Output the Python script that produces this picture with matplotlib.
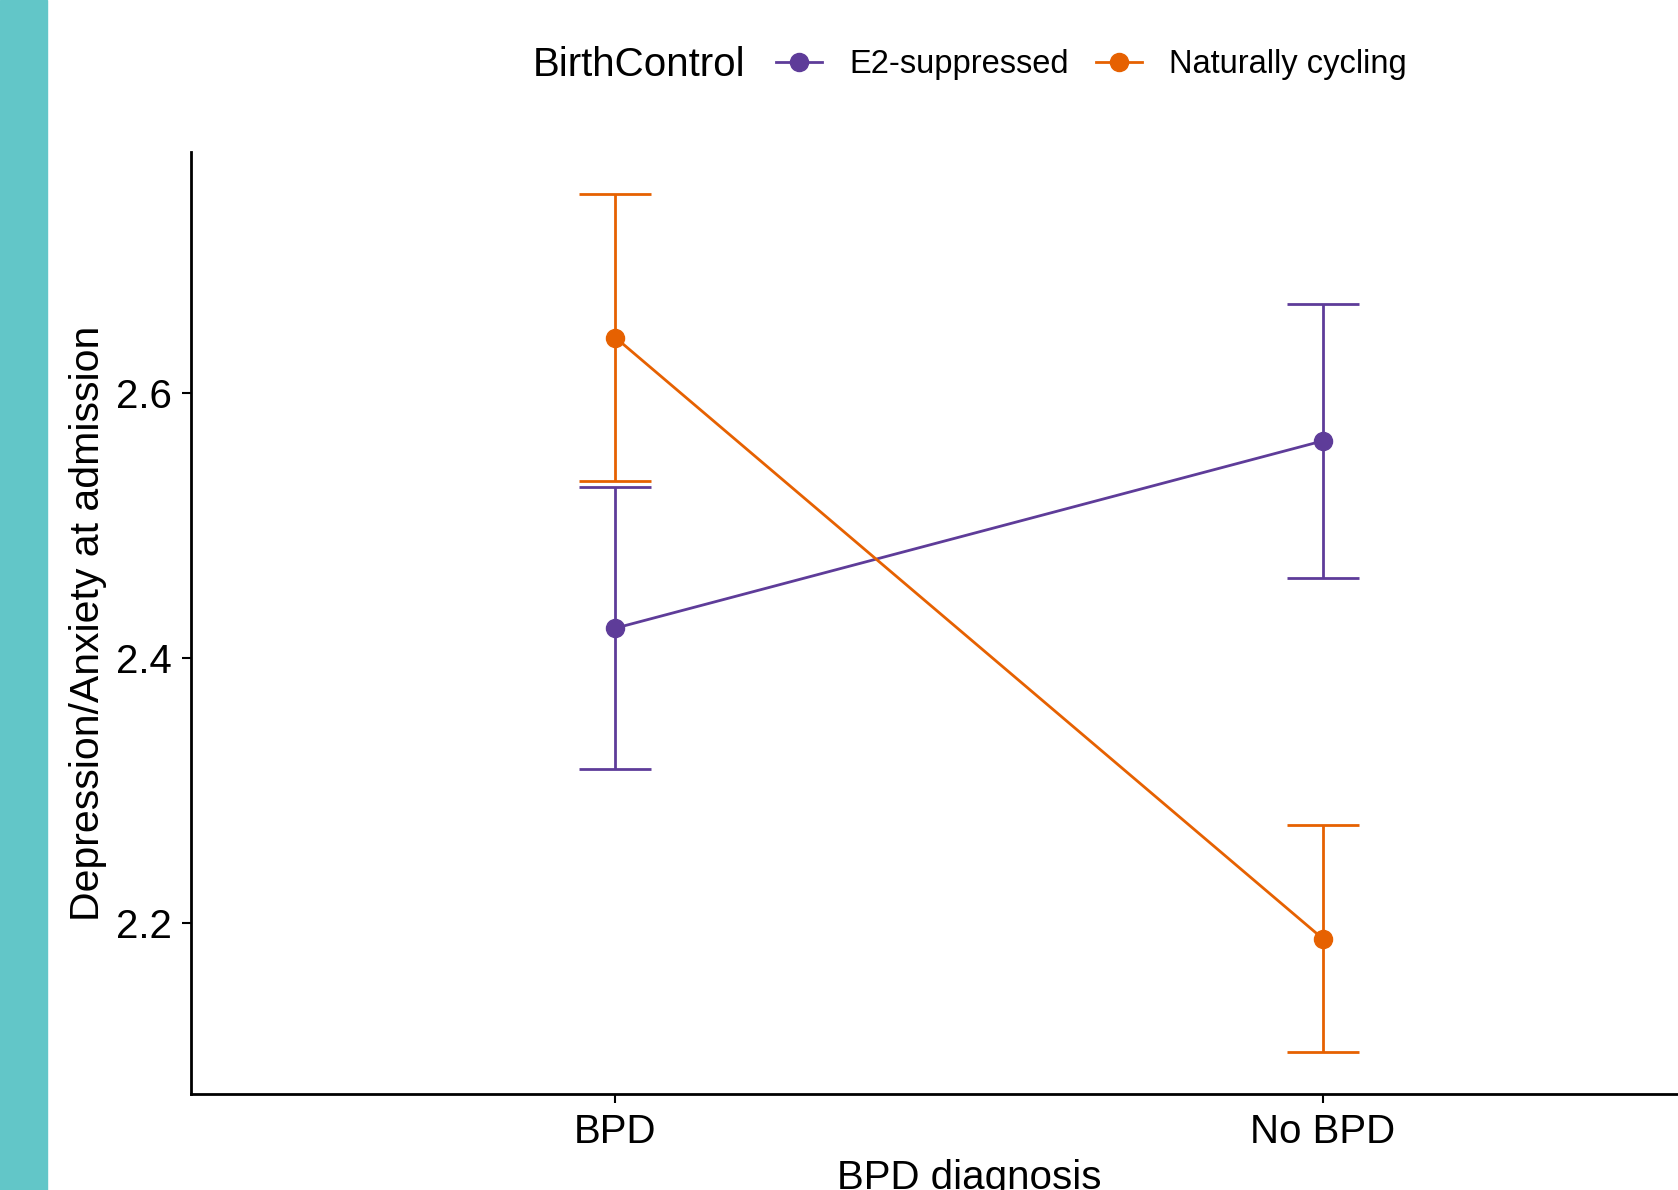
# interaction plot: depression/anxiety at admission by BPD diagnosis and birth control group
import matplotlib
matplotlib.use('Agg')
import matplotlib.pyplot as plt
from matplotlib.patches import Rectangle

plt.rcParams['font.family'] = ['Liberation Sans', 'DejaVu Sans']

# data
diagnosis = ['BPD', 'No BPD']
groups = ['E2-suppressed', 'Naturally cycling']
e2_mean = [2.4224, 2.5638]
e2_se = [0.1064, 0.1034]
nc_mean = [2.6419, 2.1880]
nc_se = [0.1084, 0.0857]
yticks = [2.2, 2.4, 2.6]

colors = {'E2-suppressed': '#5E3C99', 'Naturally cycling': '#E66101'}
means = {'E2-suppressed': e2_mean, 'Naturally cycling': nc_mean}
ses = {'E2-suppressed': e2_se, 'Naturally cycling': nc_se}

fig = plt.figure(figsize=(16.78, 11.90), dpi=100)
# teal strip down the left edge
fig.patches.append(Rectangle((0, 0), 47 / 1678, 1, transform=fig.transFigure,
                             color='#62C6C8', zorder=0))

ax = fig.add_axes([191 / 1678, 96 / 1190, 1556 / 1678, 942 / 1190])

handles = []
for g in groups:
    ax.errorbar(diagnosis, means[g], yerr=ses[g], fmt='none', ecolor=colors[g],
                elinewidth=2, capsize=25.6, capthick=2)
    h, = ax.plot(diagnosis, means[g], color=colors[g], linewidth=2,
                 marker='o', markersize=13, label=g)
    handles.append(h)

ax.set_xlim(-0.6, 1.6)
ax.set_ylim(2.0706, 2.782)
ax.set_yticks(yticks)
ax.set_yticklabels(['%.1f' % t for t in yticks])

for s in ['top', 'right']:
    ax.spines[s].set_visible(False)
for s in ['left', 'bottom']:
    ax.spines[s].set_linewidth(2)
ax.tick_params(axis='both', length=6.5, width=1.5, labelsize=29, pad=7)

ax.set_xlabel('BPD diagnosis', fontsize=29, labelpad=6)
ax.set_ylabel('Depression/Anxiety at admission', fontsize=29.5, labelpad=7)

fig.text(533 / 1678, 1 - 65 / 1190, 'BirthControl', fontsize=29, va='center', ha='left')
fig.legend(handles=handles, loc='center left', bbox_to_anchor=(776 / 1678, 1 - 65 / 1190),
           ncol=2, frameon=False, fontsize=23.5, handlelength=1.42, handletextpad=0.84,
           columnspacing=0.8, borderpad=0, borderaxespad=0, numpoints=1)

fig.savefig('out.png', dpi=100)
